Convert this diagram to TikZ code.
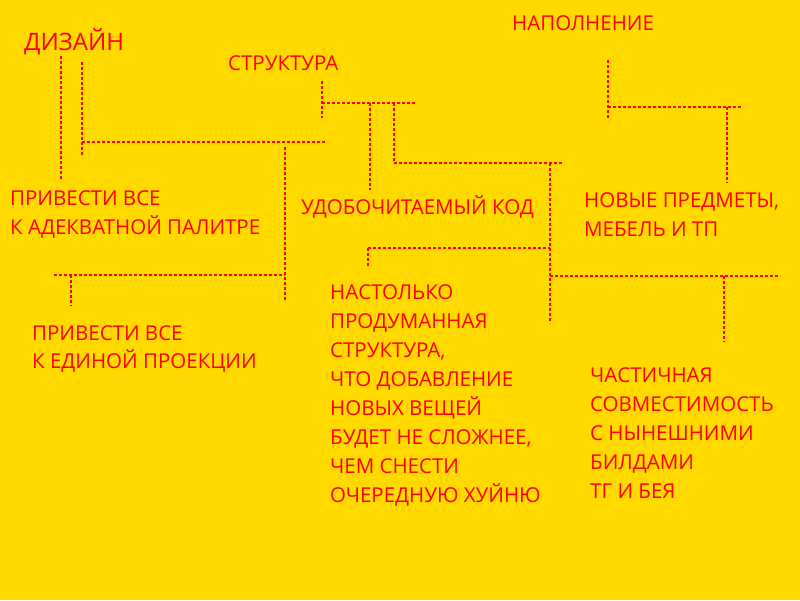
\documentclass[tikz,border=0pt]{standalone}
\usepackage{fontspec}
\setmainfont{Open Sans}
\begin{document}
\begin{tikzpicture}[x=1pt,y=-1pt,
  dl/.style={draw=txt,line width=2.5pt,dash pattern=on 2.5pt off 2.5pt},
  lbl/.style={anchor=base west,inner sep=0pt,text=txt,font=\fontsize{20.5}{24}\selectfont}]
\definecolor{bg}{RGB}{255,217,0}
\definecolor{txt}{RGB}{255,0,0}
\fill[bg] (0,0) rectangle (800,600);
\useasboundingbox (0,0) rectangle (800,600);
% design
\draw[dl] (61,56) -- (61,180);
\draw[dl] (82,62) -- (82,155);
\draw[dl] (82,142) -- (327,142);
\draw[dl] (285,147) -- (285,300);
\draw[dl] (54,275) -- (285,275);
\draw[dl] (71,275) -- (71,306);
% structure
\draw[dl] (322,81) -- (322,118);
\draw[dl] (322,103) -- (416,103);
\draw[dl] (370,103) -- (370,190);
\draw[dl] (394,103) -- (394,163);
\draw[dl] (394,163) -- (564,163);
\draw[dl] (550,163) -- (550,323);
\draw[dl] (368,248) -- (550,248);
\draw[dl] (368,248) -- (368,268);
\draw[dl] (550,276) -- (780,276);
\draw[dl] (724,276) -- (724,342);
% content
\draw[dl] (608,60) -- (608,120);
\draw[dl] (608,107) -- (741,107);
\draw[dl] (727,107) -- (727,183);
\node[lbl,font=\fontsize{24}{28}\selectfont] (d) at (24,50) {ДИЗАЙН};
\node[lbl] (s) at (228,70) {СТРУКТУРА};
\node[lbl] (n) at (512,30) {НАПОЛНЕНИЕ};
\node[lbl] (p1a) at (10,205) {ПРИВЕСТИ ВСЕ};
\node[lbl] (p1b) at (10,234) {К АДЕКВАТНОЙ ПАЛИТРЕ};
\node[lbl] (u) at (301,214) {УДОБОЧИТАЕМЫЙ КОД};
\node[lbl] (npa) at (584,207) {НОВЫЕ ПРЕДМЕТЫ,};
\node[lbl] (npb) at (584,236) {МЕБЕЛЬ И ТП};
\node[lbl] (p2a) at (32,340) {ПРИВЕСТИ ВСЕ};
\node[lbl] (p2b) at (32,368) {К ЕДИНОЙ ПРОЕКЦИИ};
\foreach \t [count=\i] in {НАСТОЛЬКО,ПРОДУМАННАЯ,{СТРУКТУРА,},ЧТО ДОБАВЛЕНИЕ,НОВЫХ ВЕЩЕЙ,{БУДЕТ НЕ СЛОЖНЕЕ,},ЧЕМ СНЕСТИ,ОЧЕРЕДНУЮ ХУЙНЮ}
  \node[lbl] (ns\i) at (330,270+29*\i) {\t};
\foreach \t [count=\i] in {ЧАСТИЧНАЯ,СОВМЕСТИМОСТЬ,С НЫНЕШНИМИ,БИЛДАМИ,ТГ И БЕЯ}
  \node[lbl] (ch\i) at (590,353+29*\i) {\t};
\end{tikzpicture}
\end{document}
